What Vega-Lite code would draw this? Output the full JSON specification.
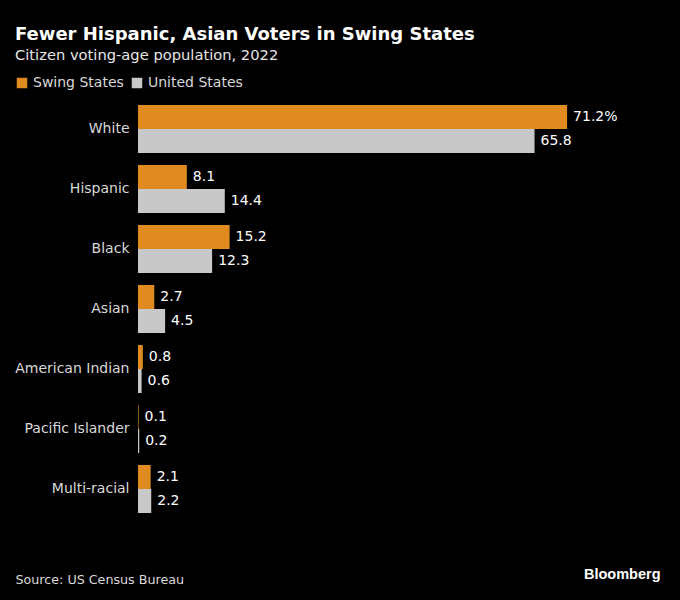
{
  "$schema": "https://vega.github.io/schema/vega-lite/v6.json",
  "autosize": {"type": "none"},
  "width": 452,
  "height": 420,
  "padding": {"left": 138, "top": 99, "right": 90, "bottom": 81},
  "background": "#000000",
  "config": {
    "view": {"stroke": null},
    "font": "DejaVu Sans"
  },
  "title": {
    "text": "Fewer Hispanic, Asian Voters in Swing States",
    "subtitle": "Citizen voting-age population, 2022",
    "anchor": "start",
    "frame": "group",
    "dx": -123,
    "offset": 13,
    "font": "DejaVu Sans",
    "fontSize": 18,
    "fontWeight": "bold",
    "color": "#ffffff",
    "subtitleFont": "DejaVu Sans",
    "subtitleFontSize": 14.7,
    "subtitleColor": "#e6e6e6",
    "subtitlePadding": 4
  },
  "data": {
    "values": [
      {"race": "White", "series": "Swing States", "value": 71.2, "label": "71.2%"},
      {"race": "White", "series": "United States", "value": 65.8, "label": "65.8"},
      {"race": "Hispanic", "series": "Swing States", "value": 8.1, "label": "8.1"},
      {"race": "Hispanic", "series": "United States", "value": 14.4, "label": "14.4"},
      {"race": "Black", "series": "Swing States", "value": 15.2, "label": "15.2"},
      {"race": "Black", "series": "United States", "value": 12.3, "label": "12.3"},
      {"race": "Asian", "series": "Swing States", "value": 2.7, "label": "2.7"},
      {"race": "Asian", "series": "United States", "value": 4.5, "label": "4.5"},
      {"race": "American Indian", "series": "Swing States", "value": 0.8, "label": "0.8"},
      {"race": "American Indian", "series": "United States", "value": 0.6, "label": "0.6"},
      {"race": "Pacific Islander", "series": "Swing States", "value": 0.1, "label": "0.1"},
      {"race": "Pacific Islander", "series": "United States", "value": 0.2, "label": "0.2"},
      {"race": "Multi-racial", "series": "Swing States", "value": 2.1, "label": "2.1"},
      {"race": "Multi-racial", "series": "United States", "value": 2.2, "label": "2.2"}
    ]
  },
  "encoding": {
    "y": {
      "field": "race",
      "type": "nominal",
      "sort": null,
      "scale": {"paddingInner": 0.2, "paddingOuter": 0.1},
      "axis": {
        "title": "Bloomberg",
        "titleAngle": 0,
        "titleX": 522,
        "titleY": 479,
        "titleAlign": "right",
        "titleBaseline": "alphabetic",
        "titleFont": "Liberation Sans",
        "titleFontSize": 14.5,
        "titleFontWeight": "bold",
        "titleColor": "#ffffff",
        "domain": false,
        "ticks": false,
        "labelPadding": 9,
        "labelFontSize": 14,
        "labelColor": "#d9d9d9",
        "labelFont": "DejaVu Sans"
      }
    },
    "yOffset": {
      "field": "series",
      "type": "nominal",
      "sort": ["Swing States", "United States"],
      "scale": {"paddingInner": 0, "paddingOuter": 0}
    },
    "x": {
      "field": "value",
      "type": "quantitative",
      "scale": {"domain": [0, 75], "nice": false},
      "axis": {
        "title": "Source: US Census Bureau",
        "titleX": -123,
        "titleY": 64,
        "titleAnchor": null,
        "titleAlign": "left",
        "titleBaseline": "alphabetic",
        "titleFont": "DejaVu Sans",
        "titleFontSize": 12.7,
        "titleFontWeight": "normal",
        "titleColor": "#d9d9d9",
        "labels": false,
        "ticks": false,
        "domain": false,
        "grid": false
      }
    }
  },
  "layer": [
    {
      "mark": {"type": "bar"},
      "encoding": {
        "color": {
          "field": "series",
          "type": "nominal",
          "scale": {"domain": ["Swing States", "United States"], "range": ["#e08b20", "#c8c8c8"]},
          "legend": {
            "title": null,
            "orient": "none",
            "direction": "horizontal",
            "legendX": -123,
            "legendY": -23,
            "symbolType": "square",
            "symbolSize": 110,
            "symbolStrokeWidth": 0,
            "labelFontSize": 14,
            "labelColor": "#d9d9d9",
            "labelFont": "DejaVu Sans",
            "columnPadding": 6,
            "labelOffset": 4
          }
        }
      }
    },
    {
      "mark": {"type": "text", "align": "left", "baseline": "middle", "dx": 6, "fontSize": 14, "color": "#ffffff", "font": "DejaVu Sans"},
      "encoding": {
        "text": {"field": "label"}
      }
    }
  ]
}
